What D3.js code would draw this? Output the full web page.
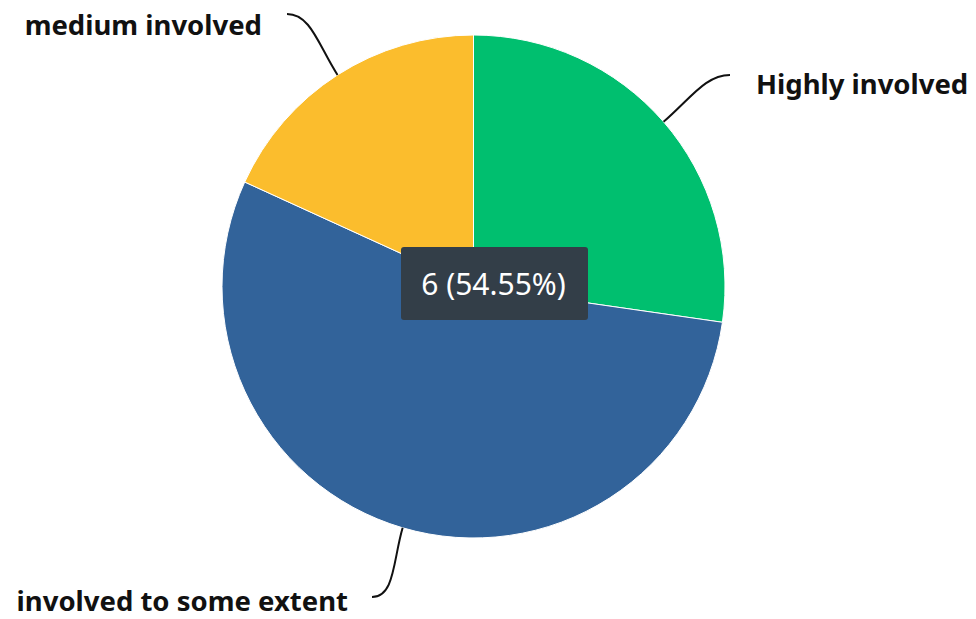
<!DOCTYPE html>
<html><head><meta charset="utf-8">
<script src="https://cdn.jsdelivr.net/npm/d3@7"></script>
<style>body{margin:0;background:#fff}svg{display:block}</style>
</head><body>
<svg id="c" width="976" height="619"></svg>
<script>
const categories = ["Highly involved", "involved to some extent", "medium involved"];
const values = [3, 6, 2];
const colors = ["#00bf6f", "#32639a", "#fbbd2d"];
const tooltipIndex = 1;

const svg = d3.select("#c");
const cx = 473.5, cy = 286.5, R = 251.5;
const total = d3.sum(values);
const pie = d3.pie().sort(null).value(d => d)(values);
const arc = d3.arc().innerRadius(0).outerRadius(R);
const g = svg.append("g").attr("transform", `translate(${cx},${cy})`);
g.selectAll("path").data(pie).join("path")
  .attr("d", arc).attr("fill", (d,i) => colors[i])
  .attr("stroke", "#fff").attr("stroke-width", 1);

const labelCfg = [
  {end:[730,75], text:[756,94], anchor:"start"},
  {end:[372,597], text:[348,611], anchor:"end"},
  {end:[287,14], text:[262,35], anchor:"end"}
];
pie.forEach((d,i) => {
  const a = (d.startAngle + d.endAngle)/2;
  const sx = cx + R*Math.sin(a), sy = cy - R*Math.cos(a);
  const [ex, ey] = labelCfg[i].end;
  const dist = Math.hypot(ex-sx, ey-sy);
  const c1x = sx + Math.sin(a)*dist*0.45, c1y = sy - Math.cos(a)*dist*0.45;
  const dir = labelCfg[i].anchor === "start" ? -1 : 1;
  const c2x = ex + dir*dist*0.3, c2y = ey;
  const p = d3.path();
  p.moveTo(sx, sy); p.bezierCurveTo(c1x, c1y, c2x, c2y, ex, ey);
  svg.append("path").attr("d", p.toString()).attr("fill","none")
    .attr("stroke","#111").attr("stroke-width",2);
  svg.append("text").attr("x", labelCfg[i].text[0]).attr("y", labelCfg[i].text[1])
    .attr("text-anchor", labelCfg[i].anchor)
    .attr("font-family","'Noto Sans', 'Open Sans', sans-serif").attr("font-weight","bold")
    .attr("font-size", 27.5).attr("fill","#111").text(categories[i]);
});

const tip = svg.append("g");
tip.append("rect").attr("x",401).attr("y",247).attr("width",187).attr("height",73)
  .attr("rx",3).attr("fill","#333e48");
tip.append("text").attr("x",493.5).attr("y",295).attr("text-anchor","middle")
  .attr("font-family","'Noto Sans', sans-serif").attr("font-size",30).attr("fill","#fff")
  .text(`${values[tooltipIndex]} (${(values[tooltipIndex]/total*100).toFixed(2)}%)`);
</script>
</body></html>
